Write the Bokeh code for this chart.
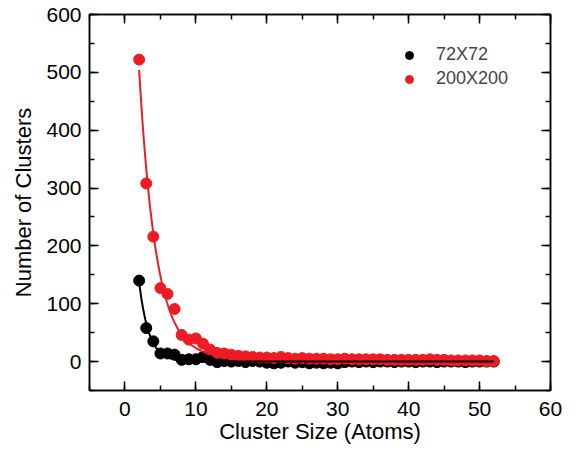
import numpy as np
from bokeh.plotting import figure
from bokeh.models import (LinearAxis, SingleIntervalTicker, Range1d, Legend, LegendItem,
                          CustomJSTickFormatter)
from bokeh.embed import file_html
from bokeh.resources import INLINE

# ---- data ----
cluster_size = list(range(2, 53))

counts_72 = [140, 58, 35, 14, 14, 12, 3, 4, 4, 8, 3, -1, 1, 0, 1, -1, 1, 0, -2, -3,
             -2, 0, -2, -1, -3, -2, -3, -2, -3, -1, 0, -1, 0, -1, 0, 0, -1, 0, 0, -1,
             0, 0, -1, 0, 0, 0, -1, 0, 0, 0, 0]

counts_200 = [522, 308, 216, 127, 117, 91, 46, 38, 40, 31, 21, 15, 14, 12, 10, 9, 8, 7, 7, 6,
              8, 6, 5, 6, 5, 5, 5, 4, 4, 5, 4, 4, 4, 4, 4, 3, 3, 3, 3, 3,
              3, 4, 3, 3, 2, 2, 2, 2, 2, 1, 1]

series_names = ["72X72", "200X200"]
x_ticks_interval = 10
y_ticks_interval = 100

RED = "#ED1C24"
BLACK = "#000000"
FONT = "Liberation Sans"


def expdec_fit(x, y):
    """Least-squares fit of y = y0 + A*exp(-x/t) (grid search over t)."""
    x = np.asarray(x, float)
    y = np.asarray(y, float)
    best = None
    for t in np.linspace(0.3, 6.0, 1141):
        e = np.exp(-x / t)
        M = np.column_stack([np.ones_like(e), e])
        coef, *_ = np.linalg.lstsq(M, y, rcond=None)
        r = np.sum((M @ coef - y) ** 2)
        if best is None or r < best[0]:
            best = (r, coef[0], coef[1], t)
    return best[1], best[2], best[3]


xs_fit = np.linspace(min(cluster_size), max(cluster_size), 400)
fits = {}
for name, ys in zip(series_names, [counts_72, counts_200]):
    y0, A, t = expdec_fit(cluster_size, ys)
    fits[name] = y0 + A * np.exp(-xs_fit / t)

p = figure(width=570, height=446, output_backend="svg", toolbar_location=None,
           x_range=Range1d(-5, 60), y_range=Range1d(-50, 600),
           min_border_left=89, min_border_right=20, min_border_top=14, min_border_bottom=55,
           x_axis_label="Cluster Size (Atoms)", y_axis_label="Number of Clusters")
p.xgrid.visible = False
p.ygrid.visible = False
p.outline_line_color = "black"
p.outline_line_width = 1.5

r_b = p.scatter(cluster_size, counts_72, size=11, color=BLACK)
r_r = p.scatter(cluster_size, counts_200, size=11, color=RED)
p.line(xs_fit, fits["200X200"], line_color=RED, line_width=2)
p.line(xs_fit, fits["72X72"], line_color=BLACK, line_width=2)

for ax, interval in [(p.xaxis[0], x_ticks_interval), (p.yaxis[0], y_ticks_interval)]:
    ax.ticker = SingleIntervalTicker(interval=interval, num_minor_ticks=2)
    ax.major_tick_in = 9
    ax.major_tick_out = 0
    ax.minor_tick_in = 5
    ax.minor_tick_out = 0
    ax.axis_line_width = 1.5
    ax.major_tick_line_width = 1.5
    ax.minor_tick_line_width = 1.5
    ax.major_label_text_font = FONT
    ax.major_label_text_font_size = "21px"
    ax.major_label_text_color = "black"
    ax.axis_label_text_font = FONT
    ax.axis_label_text_font_size = "22px"
    ax.axis_label_text_font_style = "normal"
    ax.axis_label_text_color = "black"

p.xaxis[0].major_label_standoff = 11
p.xaxis[0].axis_label_standoff = 0
p.yaxis[0].major_label_standoff = 8
p.yaxis[0].axis_label_standoff = 7

for side, interval in [("above", x_ticks_interval), ("right", y_ticks_interval)]:
    ax = LinearAxis(ticker=SingleIntervalTicker(interval=interval, num_minor_ticks=2),
                    major_tick_in=9, major_tick_out=0, minor_tick_in=5, minor_tick_out=0,
                    axis_line_width=1.5, major_tick_line_width=1.5, minor_tick_line_width=1.5,
                    formatter=CustomJSTickFormatter(code="return ''"),
                    major_label_standoff=0)
    p.add_layout(ax, side)

legend = Legend(items=[LegendItem(label=series_names[0], renderers=[r_b]),
                       LegendItem(label=series_names[1], renderers=[r_r])],
                location=(300, 291), border_line_alpha=0, background_fill_alpha=0,
                label_text_font=FONT, label_text_font_size="18px",
                label_standoff=17, spacing=3, glyph_width=20, glyph_height=20)
p.add_layout(legend)

open("out.html", "w").write(file_html(p, INLINE))
